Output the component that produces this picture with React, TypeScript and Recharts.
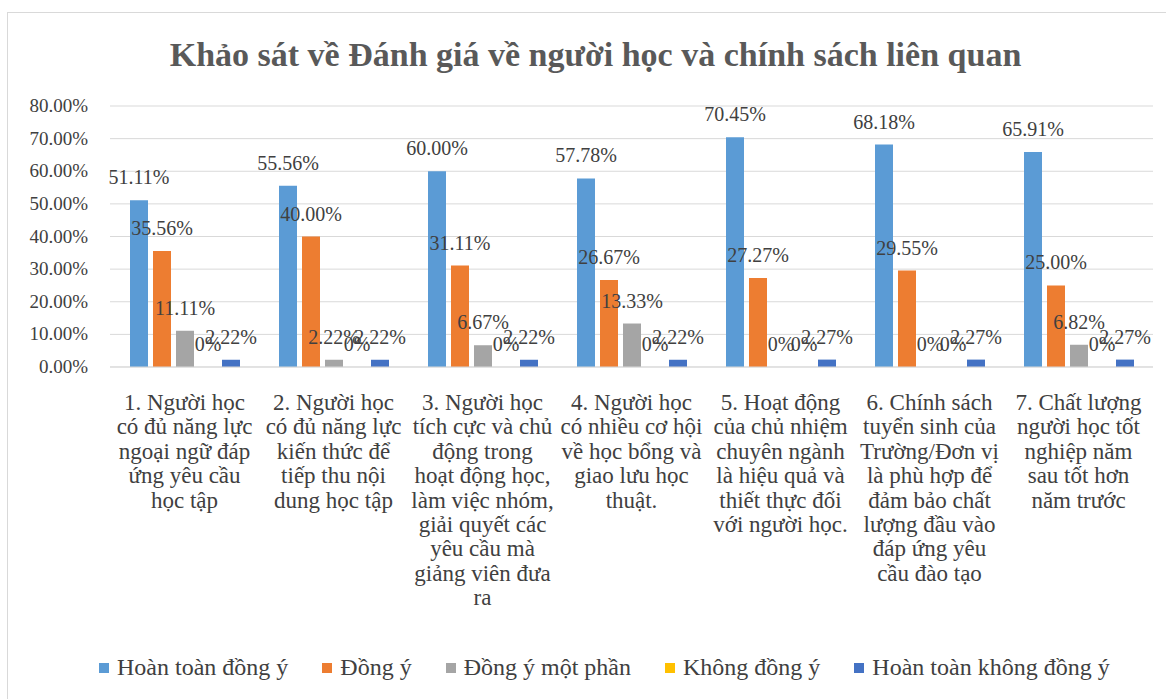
import { BarChart, Bar, XAxis, YAxis, CartesianGrid, LabelList } from 'recharts';

const categories = [
  '1. Người học có đủ năng lực ngoại ngữ đáp ứng yêu cầu học tập',
  '2. Người học có đủ năng lực kiến thức để tiếp thu nội dung học tập',
  '3. Người học tích cực và chủ động trong hoạt động học, làm việc nhóm, giải quyết các yêu cầu mà giảng viên đưa ra',
  '4. Người học có nhiều cơ hội về học bổng và giao lưu học thuật.',
  '5. Hoạt động của chủ nhiệm chuyên ngành là hiệu quả và thiết thực đối với người học.',
  '6. Chính sách tuyển sinh của Trường/Đơn vị là phù hợp để đảm bảo chất lượng đầu vào đáp ứng yêu cầu đào tạo',
  '7. Chất lượng người học tốt nghiệp năm sau tốt hơn năm trước',
];

// wrapped lines as they appear under the axis
const categoryLines = [
  ['1. Người học', 'có đủ năng lực', 'ngoại ngữ đáp', 'ứng yêu cầu', 'học tập'],
  ['2. Người học', 'có đủ năng lực', 'kiến thức để', 'tiếp thu nội', 'dung học tập'],
  ['3. Người học', 'tích cực và chủ', 'động trong', 'hoạt động học,', 'làm việc nhóm,', 'giải quyết các', 'yêu cầu mà', 'giảng viên đưa', 'ra'],
  ['4. Người học', 'có nhiều cơ hội', 'về học bổng và', 'giao lưu học', 'thuật.'],
  ['5. Hoạt động', 'của chủ nhiệm', 'chuyên ngành', 'là hiệu quả và', 'thiết thực đối', 'với người học.'],
  ['6. Chính sách', 'tuyển sinh của', 'Trường/Đơn vị', 'là phù hợp để', 'đảm bảo chất', 'lượng đầu vào', 'đáp ứng yêu', 'cầu đào tạo'],
  ['7. Chất lượng', 'người học tốt', 'nghiệp năm', 'sau tốt hơn', 'năm trước'],
];

const hoanToanDongY = [51.11, 55.56, 60.0, 57.78, 70.45, 68.18, 65.91];
const dongY = [35.56, 40.0, 31.11, 26.67, 27.27, 29.55, 25.0];
const dongYMotPhan = [11.11, 2.22, 6.67, 13.33, 0, 0, 6.82];
const khongDongY = [0, 0, 0, 0, 0, 0, 0];
const hoanToanKhongDongY = [2.22, 2.22, 2.22, 2.22, 2.27, 2.27, 2.27];

const yTicks = [0, 10, 20, 30, 40, 50, 60, 70, 80];

const series = [
  { key: 'a', name: 'Hoàn toàn đồng ý', color: '#5b9bd5', values: hoanToanDongY },
  { key: 'b', name: 'Đồng ý', color: '#ed7d31', values: dongY },
  { key: 'c', name: 'Đồng ý một phần', color: '#a5a5a5', values: dongYMotPhan },
  { key: 'd', name: 'Không đồng ý', color: '#ffc000', values: khongDongY },
  { key: 'e', name: 'Hoàn toàn không đồng ý', color: '#4472c4', values: hoanToanKhongDongY },
];

const data = categories.map((c, i) => {
  const row: any = { name: c, idx: i };
  series.forEach(s => { row[s.key] = s.values[i]; });
  return row;
});

const FONT = "'Liberation Serif', 'Times New Roman', serif";
const TXT = '#404040';

const fmt = (v: number) => (v === 0 ? '0%' : v.toFixed(2) + '%');

const BarLabel = (props: any) => {
  const { x, y, width, height, value } = props;
  const top = Math.min(y, y + (height || 0));
  return (
    <text x={x + width / 2} y={top - 16} textAnchor="middle" fill={TXT} style={{ fontFamily: FONT, fontSize: 20 }}>
      {fmt(value)}
    </text>
  );
};

const YTick = (props: any) => {
  const { x, y, payload } = props;
  return (
    <text x={x - 8} y={y + 6} textAnchor="end" fill={TXT} style={{ fontFamily: FONT, fontSize: 19 }}>
      {payload.value.toFixed(2) + '%'}
    </text>
  );
};

const CatTick = (props: any) => {
  const { x, y, index } = props;
  const lines = categoryLines[index] || [];
  return (
    <text x={x} y={y + 35} textAnchor="middle" fill={TXT} style={{ fontFamily: FONT, fontSize: 23 }}>
      {lines.map((l, i) => (
        <tspan key={i} x={x} dy={i === 0 ? 0 : 24.4}>{l}</tspan>
      ))}
    </text>
  );
};

export default function App() {
  return (
    <div style={{ position: 'absolute', left: 7, top: 12, width: 1170, height: 700, border: '1px solid #d9d9d9', boxSizing: 'border-box', background: '#fff' }}>
      <div style={{ position: 'absolute', left: 0, width: 1175, top: 23, textAlign: 'center', fontFamily: FONT, fontWeight: 'bold', fontSize: 34, color: '#595959' }}>
        Khảo sát về Đánh giá về người học và chính sách liên quan
      </div>
      <BarChart width={1160} height={690} data={data} margin={{ top: 93, right: 15, bottom: 0, left: 0 }} barSize={18} barGap={5}>
        <CartesianGrid vertical={false} stroke="#d9d9d9" />
        <YAxis domain={[0, 80]} ticks={yTicks} width={102} axisLine={false} tickLine={false} tickMargin={8}
          tick={<YTick />} />
        <XAxis dataKey="name" height={336} interval={0} axisLine={{ stroke: '#d9d9d9' }} tickLine={false} tick={<CatTick />} />
        {series.map(s => (
          <Bar key={s.key} dataKey={s.key} name={s.name} fill={s.color} isAnimationActive={false}
            minPointSize={(v: number) => (v === 0 ? 0.01 : 0)}>
            <LabelList dataKey={s.key} content={<BarLabel />} />
          </Bar>
        ))}
      </BarChart>
      <div style={{ position: 'absolute', left: 91, top: 641, display: 'flex', alignItems: 'center', fontFamily: FONT, fontSize: 24, color: TXT }}>
        {series.map(s => (
          <div key={s.key} style={{ display: 'flex', alignItems: 'center', marginRight: 34 }}>
            <span style={{ width: 10, height: 10, background: s.color, marginRight: 8, display: 'inline-block' }} />
            <span>{s.name}</span>
          </div>
        ))}
      </div>
    </div>
  );
}
